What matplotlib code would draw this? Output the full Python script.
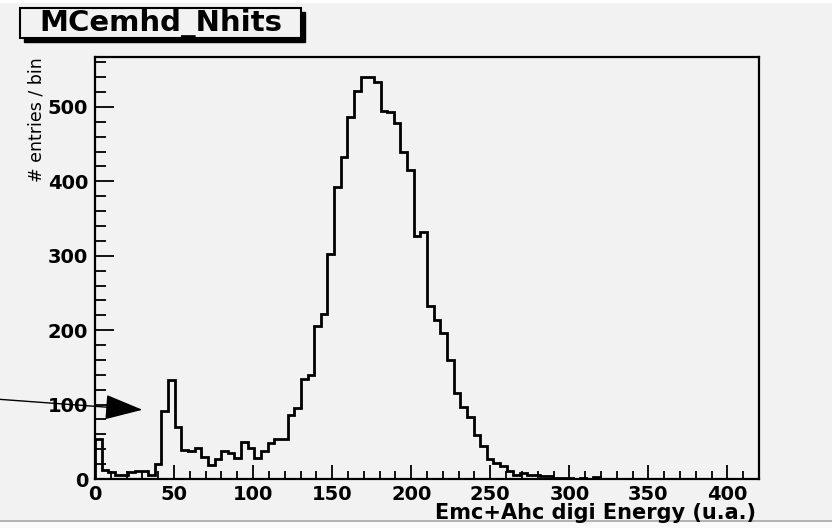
#!/usr/bin/env python3
"""
Energy sum histogram (Emc + Ahc digi energy) drawn in the old ROOT canvas look:
grey pad, boxed title in the corner, ticks inside, step-line histogram.
"""

import matplotlib.pyplot as plt
import numpy as np
from matplotlib.patches import Rectangle
from matplotlib.ticker import MultipleLocator

# histogram binning: 100 bins between 0 and 420
x_min = 0
x_max = 420
n_bins = 100

# bin contents
counts = [54, 12, 10, 5, 6, 10, 11, 11, 6, 20,
          92, 133, 70, 39, 37, 42, 30, 19, 27, 38,
          35, 28, 50, 42, 28, 38, 48, 54, 54, 86,
          96, 134, 140, 205, 222, 303, 392, 433, 487, 522,
          540, 540, 534, 495, 493, 478, 439, 415, 327, 332,
          233, 213, 196, 160, 116, 97, 83, 59, 44, 27,
          22, 17, 11, 6, 8, 6, 5, 4, 4, 2,
          1, 1, 0, 1, 0, 3, 0, 0, 0, 0,
          0, 0, 0, 0, 0, 0, 0, 0, 0, 0,
          0, 0, 0, 0, 0, 0, 0, 0, 0, 0]

hist_name = 'MCemhd_Nhits'
x_title = 'Emc+Ahc digi Energy (u.a.)'
y_title = '# entries / bin'

# arrow pointing at the low-energy bump (tail, head) in data units
arrow_tail = (-60, 107)
arrow_head = (30, 93)

PAD_GREY = '#f2f2f2'


def draw_hist():
    edges = np.linspace(x_min, x_max, n_bins + 1)

    fig = plt.figure(figsize=(8.32, 5.28), dpi=100, facecolor=PAD_GREY)
    ax = fig.add_axes([0.1142, 0.0928, 0.7981, 0.7992])
    ax.set_facecolor(PAD_GREY)

    ax.stairs(counts, edges, color='black', linewidth=2.0, baseline=0)

    ax.set_xlim(x_min, x_max)
    ax.set_ylim(0, 1.05 * max(counts))

    ax.xaxis.set_major_locator(MultipleLocator(50))
    ax.xaxis.set_minor_locator(MultipleLocator(10))
    ax.yaxis.set_major_locator(MultipleLocator(100))
    ax.yaxis.set_minor_locator(MultipleLocator(20))

    for side in ['left', 'right', 'top', 'bottom']:
        ax.spines[side].set_linewidth(1.6)

    ax.tick_params(axis='both', which='both', direction='in',
                   top=False, right=False, width=1.3)
    ax.tick_params(axis='x', which='major', length=10, pad=4)
    ax.tick_params(axis='x', which='minor', length=5.5)
    ax.tick_params(axis='y', which='major', length=14, pad=5)
    ax.tick_params(axis='y', which='minor', length=8)

    for lbl in ax.get_xticklabels() + ax.get_yticklabels():
        lbl.set_fontfamily('DejaVu Sans')
        lbl.set_fontweight('bold')
        lbl.set_fontsize(14)

    ax.set_xlabel(x_title, loc='right', fontsize=15, fontweight='bold')
    ax.xaxis.set_label_coords(0.995, -0.058)
    ax.set_ylabel(y_title, loc='top', fontsize=12.5)
    ax.yaxis.set_label_coords(-0.075, 1.0)

    # arrow coming in from the left edge of the canvas
    ax.annotate('', xy=arrow_head, xytext=arrow_tail,
                xycoords='data', textcoords='data', annotation_clip=False,
                arrowprops=dict(arrowstyle='-|>,head_length=2.4,head_width=0.8',
                                mutation_scale=10, color='black', lw=1.0,
                                shrinkA=0, shrinkB=0))

    # title box with drop shadow, ROOT style
    W, H = 832.0, 528.0
    bx, by, bw, bh = 20, 8, 281, 30
    shadow = Rectangle(((bx + 4) / W, (H - by - bh - 4) / H), bw / W, bh / H,
                       transform=fig.transFigure, facecolor='black',
                       edgecolor='black', lw=1.0, zorder=5)
    box = Rectangle((bx / W, (H - by - bh) / H), bw / W, bh / H,
                    transform=fig.transFigure, facecolor=PAD_GREY,
                    edgecolor='black', lw=1.5, zorder=6)
    fig.patches.extend([shadow, box])
    fig.text((bx + bw / 2) / W, (H - by - bh / 2) / H, hist_name,
             ha='center', va='center', fontsize=21, fontweight='bold',
             family='DejaVu Sans', zorder=7)

    # thin white strip on top and window edge at the bottom
    fig.patches.append(Rectangle((0, 1 - 3 / H), 1, 3 / H, transform=fig.transFigure,
                                 facecolor='white', edgecolor='none', zorder=-2))
    fig.patches.append(Rectangle((0, 0), 1, 7 / H, transform=fig.transFigure,
                                 facecolor='#fafafa', edgecolor='none', zorder=-2))
    fig.lines.append(plt.Line2D([0, 1], [7 / H, 7 / H], transform=fig.transFigure,
                                color='#a8a8a8', lw=1.2, zorder=-1))

    fig.savefig('out.png', dpi=100, facecolor=fig.get_facecolor())


if __name__ == '__main__':
    draw_hist()
